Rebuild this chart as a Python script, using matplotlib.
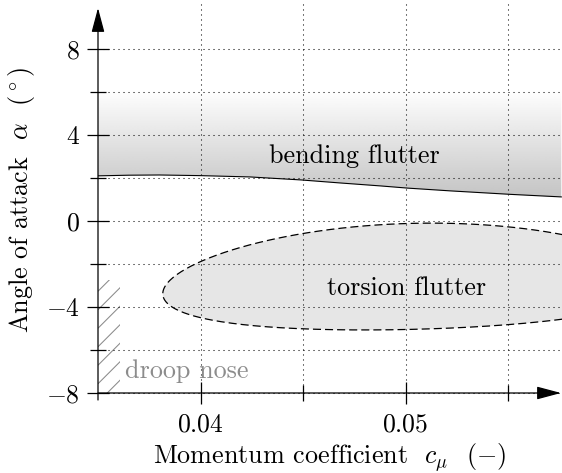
import numpy as np
import matplotlib
matplotlib.use("Agg")
import matplotlib.pyplot as plt
from matplotlib.patches import Polygon, Rectangle

plt.rcParams['mathtext.fontset'] = 'cm'
plt.rcParams['font.family'] = ['cmr10', 'DejaVu Serif']
plt.rcParams['axes.formatter.use_mathtext'] = True
plt.rcParams['lines.scale_dashes'] = False

# Boundary of the bending flutter region
bend_x = [0.0350, 0.0365, 0.0380, 0.0400, 0.0424, 0.0449, 0.0468, 0.0488, 0.0501, 0.0522, 0.0551, 0.0576]
bend_y = [2.10, 2.13, 2.14, 2.11, 2.05, 1.91, 1.77, 1.63, 1.53, 1.40, 1.24, 1.12]
bend_top = 6.1

# Torsion flutter region: skewed ellipse (centre, half-width, half-height, midline skew)
tors_cx, tors_a = 0.05032, 0.01216
tors_c0, tors_c1, tors_c2 = -2.575, 0.279, -0.529
tors_b = 2.465

# Droop nose hatched region
droop_x = (0.0350, 0.03607)
droop_y = (-8.0, -2.75)

x_major = [0.04, 0.05]
x_minor = [0.045, 0.055]
y_major = [-8, -4, 0, 4, 8]
y_minor = [-6, -2, 2, 6]

xlim = (0.035, 0.057634)
ylim = (-8.3256, 10.279)
x_tip = 0.057585
y_tip = 9.907

fig = plt.figure(figsize=(5.62, 4.73), dpi=100)
ax = fig.add_axes([98 / 562, 73 / 473, 464 / 562, 400 / 473])
ax.set_xlim(*xlim)
ax.set_ylim(*ylim)

for s in ax.spines.values():
    s.set_visible(False)
ax.spines['bottom'].set_position(('data', -8))
ax.spines['left'].set_position(('data', 0.035))

# pixel -> data scale, used for the hatch strokes
px_x = (xlim[1] - xlim[0]) / 464
px_y = (ylim[1] - ylim[0]) / 400

# gradient band for bending flutter
verts = list(zip(bend_x, bend_y)) + [(bend_x[-1], bend_top), (bend_x[0], bend_top)]
clip = Polygon(verts, closed=True, facecolor='none', edgecolor='none')
ax.add_patch(clip)
grad = np.linspace(0, 1, 256).reshape(-1, 1)
grad = 1.0 - grad * (1.0 - 0.765)
im = ax.imshow(grad, extent=[bend_x[0], bend_x[-1], 1.0, bend_top], origin='upper',
               cmap='gray', vmin=0, vmax=1, aspect='auto', zorder=1, interpolation='bilinear')
im.set_clip_path(clip)
ax.plot(bend_x, bend_y, color='black', lw=0.8, zorder=3)

# torsion flutter
t = np.linspace(0, 2 * np.pi, 400)
u = np.cos(t)
ex = tors_cx + tors_a * u
ey = tors_c0 + tors_c1 * u + tors_c2 * u ** 2 + tors_b * np.sin(t)
ax.fill(ex, ey, facecolor='#e6e6e6', edgecolor='none', zorder=1)
ax.plot(ex, ey, color='black', lw=0.9, linestyle=(0, (5.8, 2.9)), zorder=3)

# droop nose hatch: 45 degree strokes every ~18.5 px, clipped to the region
box = Rectangle((droop_x[0], droop_y[0]), droop_x[1] - droop_x[0], droop_y[1] - droop_y[0],
                facecolor='none', edgecolor='none')
ax.add_patch(box)
step = 18.5 * px_y
start = droop_y[0] - 0.5 * 18.5 * px_y
n_strokes = int((droop_y[1] - droop_y[0]) / step) + 2
for k in range(n_strokes):
    y0 = start + k * step
    ln, = ax.plot([droop_x[0], droop_x[0] + 40 * px_x], [y0, y0 + 40 * px_y],
                  color='#8a8a8a', lw=0.75, zorder=2, solid_capstyle='butt')
    ln.set_clip_path(box)

# grid
ax.set_xticks(x_major)
ax.set_xticks(x_minor, minor=True)
ax.set_yticks(y_major)
ax.set_yticks(y_minor, minor=True)
ax.set_xticklabels(['$%g$' % v for v in x_major])
ax.set_yticklabels(['$%d$' % v for v in y_major])
ax.grid(True, which='both', color='black', lw=0.75, linestyle=(0, (0.75, 2.85)), zorder=2)
ax.set_axisbelow(False)
ax.tick_params(which='major', direction='inout', length=15.8, width=0.9, labelsize=18.5)
ax.tick_params(which='minor', direction='inout', length=11.0, width=0.9)
ax.tick_params(axis='y', which='major', pad=5)
ax.tick_params(axis='x', which='major', pad=6)

# axes with arrows
arrow = dict(arrowstyle='-|>,head_length=1.5,head_width=0.4', lw=0.9, color='black',
             shrinkA=0, shrinkB=0, mutation_scale=10)
ax.annotate('', xy=(x_tip, -8), xytext=(0.035, -8), arrowprops=arrow, annotation_clip=False, zorder=5)
ax.annotate('', xy=(0.035, y_tip), xytext=(0.035, ylim[0]), arrowprops=arrow, annotation_clip=False, zorder=5)

# region labels
ax.text(0.04749, 2.70, 'bending flutter', ha='center', va='baseline', fontsize=18.8, zorder=4)
ax.text(0.05005, -3.44, 'torsion flutter', ha='center', va='baseline', fontsize=18.8, zorder=4)
ax.text(0.03632, -7.30, 'droop nose', ha='left', va='baseline', fontsize=18.8, color='#8c8c8c', zorder=4)

ax.set_xlabel(r'Momentum coefficient  $c_\mu$  $(-)$', fontsize=18.8)
ax.set_ylabel(r'Angle of attack  $\alpha$  $(^\circ)$', fontsize=18.8)
ax.xaxis.set_label_coords(0.5, -0.103)
ax.yaxis.set_label_coords(-0.1315, 0.5)

fig.savefig('out.png', dpi=100)
